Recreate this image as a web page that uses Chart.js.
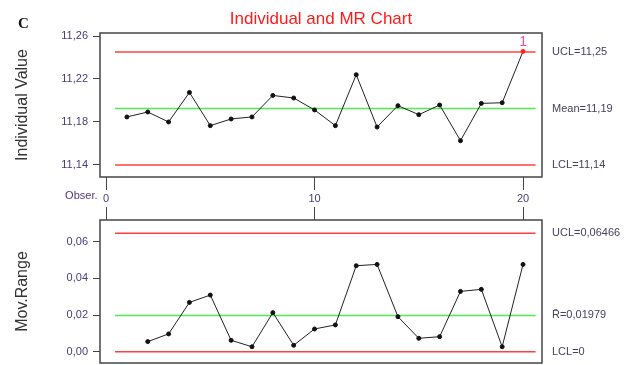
<!DOCTYPE html>
<html>
<head>
<meta charset="utf-8">
<script src="https://cdn.jsdelivr.net/npm/chart.js@4"></script>
<style>
  body { margin: 0; background: #fff; overflow: hidden; }
  canvas { position: absolute; left: 0; }
  #indChart { top: 0; }
  #mrChart { top: 200px; }
</style>
</head>
<body>
<canvas id="indChart" width="636" height="221"></canvas>
<canvas id="mrChart" width="636" height="180"></canvas>
<script>
// Observaciones y valores
const observations = [1, 2, 3, 4, 5, 6, 7, 8, 9, 10, 11, 12, 13, 14, 15, 16, 17, 18, 19, 20];
const individualValues = [11.1847, 11.1893, 11.1800, 11.2075, 11.1766, 11.1828, 11.1847, 11.2047, 11.2023, 11.1912,
    11.1766, 11.2240, 11.1753, 11.1952, 11.1868, 11.1958, 11.1626, 11.1973, 11.1979, 11.2457];
const movingRanges = [null, 0.0055, 0.0097, 0.0269, 0.0309, 0.0062, 0.0027, 0.0213, 0.0035, 0.0124,
    0.0146, 0.0469, 0.0476, 0.0191, 0.0073, 0.0082, 0.0329, 0.0340, 0.0027, 0.0476];

// Limites de control (UCL, centro, LCL)
const individualLimits = [11.2451, 11.1925, 11.1399];
const individualLimitLabels = ['UCL=11,25', 'Mean=11,19', 'LCL=11,14'];
const mrLimits = [0.06466, 0.01979, 0];
const mrLimitLabels = ['UCL=0,06466', 'R\u0304=0,01979', 'LCL=0'];

// Marcas de los ejes
const individualTicks = [11.14, 11.18, 11.22, 11.26];
const mrTicks = [0, 0.02, 0.04, 0.06];
const obsTicks = [0, 10, 20];
const outOfControl = [20];

const FONT = "'Liberation Sans', Arial, sans-serif";
const TICK_COLOR = '#4b3b78';
const LABEL_COLOR = '#45425a';
const LIMIT_COLORS = ['#ff4040', '#4ded4d', '#ff4040'];
const X_MIN = -0.29, X_MAX = 20.91;

function comma(v) {
    return v.toFixed(2).replace('.', ',');
}

function limitDatasets(values) {
    return values.map((v, i) => ({
        data: [{ x: 0.43, y: v }, { x: 20.6, y: v }],
        borderColor: LIMIT_COLORS[i],
        borderWidth: 1.5,
        pointRadius: 0,
        yAxisID: 'y'
    }));
}

// Marco alrededor del area del grafico
const framePlugin = {
    id: 'frame',
    afterDatasetsDraw(chart) {
        const a = chart.chartArea;
        const c = chart.ctx;
        c.save();
        c.strokeStyle = '#444';
        c.lineWidth = 1.5;
        c.strokeRect(a.left, a.top, a.right - a.left, a.bottom - a.top);
        c.restore();
    }
};

// Titulo, letra "C", etiqueta "Obser." y marca de punto fuera de control
const decorPlugin = {
    id: 'decor',
    afterDraw(chart) {
        const c = chart.ctx;
        c.save();
        c.fillStyle = '#ff1a1a';
        c.font = '17px ' + FONT;
        c.textAlign = 'center';
        c.textBaseline = 'middle';
        c.fillText('Individual and MR Chart', 321, 19.5);

        c.fillStyle = '#111';
        c.font = "bold 15px 'Liberation Serif', 'Times New Roman', serif";
        c.textAlign = 'left';
        c.textBaseline = 'alphabetic';
        c.fillText('C', 18, 28);

        c.fillStyle = TICK_COLOR;
        c.font = '11px ' + FONT;
        c.textAlign = 'right';
        c.textBaseline = 'middle';
        c.fillText('Obser.', 97.5, 196);

        const meta = chart.getDatasetMeta(0);
        c.fillStyle = '#ff4d94';
        c.font = '14px ' + FONT;
        c.textAlign = 'center';
        outOfControl.forEach(obs => {
            const pt = meta.data[observations.indexOf(obs)];
            c.fillText('1', pt.x, pt.y - 9);
        });
        c.restore();
    }
};

function leftAxis(min, max, ticks, title) {
    return {
        type: 'linear',
        position: 'left',
        min: min,
        max: max,
        afterBuildTicks: s => { s.ticks = ticks.map(v => ({ value: v })); },
        afterFit: s => { s.width = 100; },
        grid: { drawOnChartArea: false, tickLength: 7, color: '#444' },
        border: { display: false },
        ticks: { color: TICK_COLOR, font: { family: FONT, size: 11 }, padding: 5, callback: v => comma(v), autoSkip: false },
        title: { display: true, text: title, color: '#333', font: { family: FONT, size: 16 }, padding: { top: 13, bottom: 0 } }
    };
}

function rightAxis(min, max, values, labels) {
    return {
        type: 'linear',
        position: 'right',
        min: min,
        max: max,
        afterBuildTicks: s => { s.ticks = values.map(v => ({ value: v })); },
        afterFit: s => { s.width = 94; },
        grid: { display: false, drawTicks: false },
        border: { display: false },
        ticks: { color: LABEL_COLOR, font: { family: FONT, size: 11 }, padding: 10, autoSkip: false,
            callback: (v, i) => labels[i] }
    };
}

const pointColors = observations.map(o => outOfControl.includes(o) ? '#ff2020' : '#111');

new Chart(document.getElementById('indChart'), {
    type: 'line',
    data: {
        datasets: [{
            data: observations.map((x, i) => ({ x: x, y: individualValues[i] })),
            borderColor: '#222',
            borderWidth: 1,
            pointRadius: 2,
            pointBackgroundColor: pointColors,
            pointBorderColor: pointColors,
            yAxisID: 'y'
        }].concat(limitDatasets(individualLimits))
    },
    options: {
        responsive: false,
        animation: false,
        layout: { padding: { top: 33, left: 0, right: 0, bottom: 0 } },
        plugins: { legend: { display: false }, tooltip: { enabled: false } },
        scales: {
            x: {
                type: 'linear',
                position: 'bottom',
                min: X_MIN,
                max: X_MAX,
                afterBuildTicks: s => { s.ticks = obsTicks.map(v => ({ value: v })); },
                afterFit: s => { s.height = 44; },
                grid: { drawOnChartArea: false, tickLength: 13, color: '#444' },
                border: { display: false },
                ticks: { color: TICK_COLOR, font: { family: FONT, size: 11 }, padding: 2 }
            },
            y: leftAxis(11.1288, 11.2628, individualTicks, 'Individual Value'),
            yr: rightAxis(11.1288, 11.2628, individualLimits, individualLimitLabels)
        }
    },
    plugins: [framePlugin, decorPlugin]
});

new Chart(document.getElementById('mrChart'), {
    type: 'line',
    data: {
        datasets: [{
            data: observations.map((x, i) => ({ x: x, y: movingRanges[i] })),
            borderColor: '#222',
            borderWidth: 1,
            pointRadius: 2,
            pointBackgroundColor: '#111',
            pointBorderColor: '#111',
            yAxisID: 'y'
        }].concat(limitDatasets(mrLimits))
    },
    options: {
        responsive: false,
        animation: false,
        layout: { padding: { top: 7, left: 0, right: 0, bottom: 17 } },
        plugins: { legend: { display: false }, tooltip: { enabled: false } },
        scales: {
            x: {
                type: 'linear',
                position: 'top',
                min: X_MIN,
                max: X_MAX,
                afterBuildTicks: s => { s.ticks = obsTicks.map(v => ({ value: v })); },
                afterFit: s => { s.height = 13; },
                grid: { drawOnChartArea: false, tickLength: 13, color: '#444' },
                border: { display: false },
                ticks: { display: false }
            },
            y: leftAxis(-0.00616, 0.07183, mrTicks, 'Mov.Range'),
            yr: rightAxis(-0.00616, 0.07183, mrLimits, mrLimitLabels)
        }
    },
    plugins: [framePlugin]
});
</script>
</body>
</html>
